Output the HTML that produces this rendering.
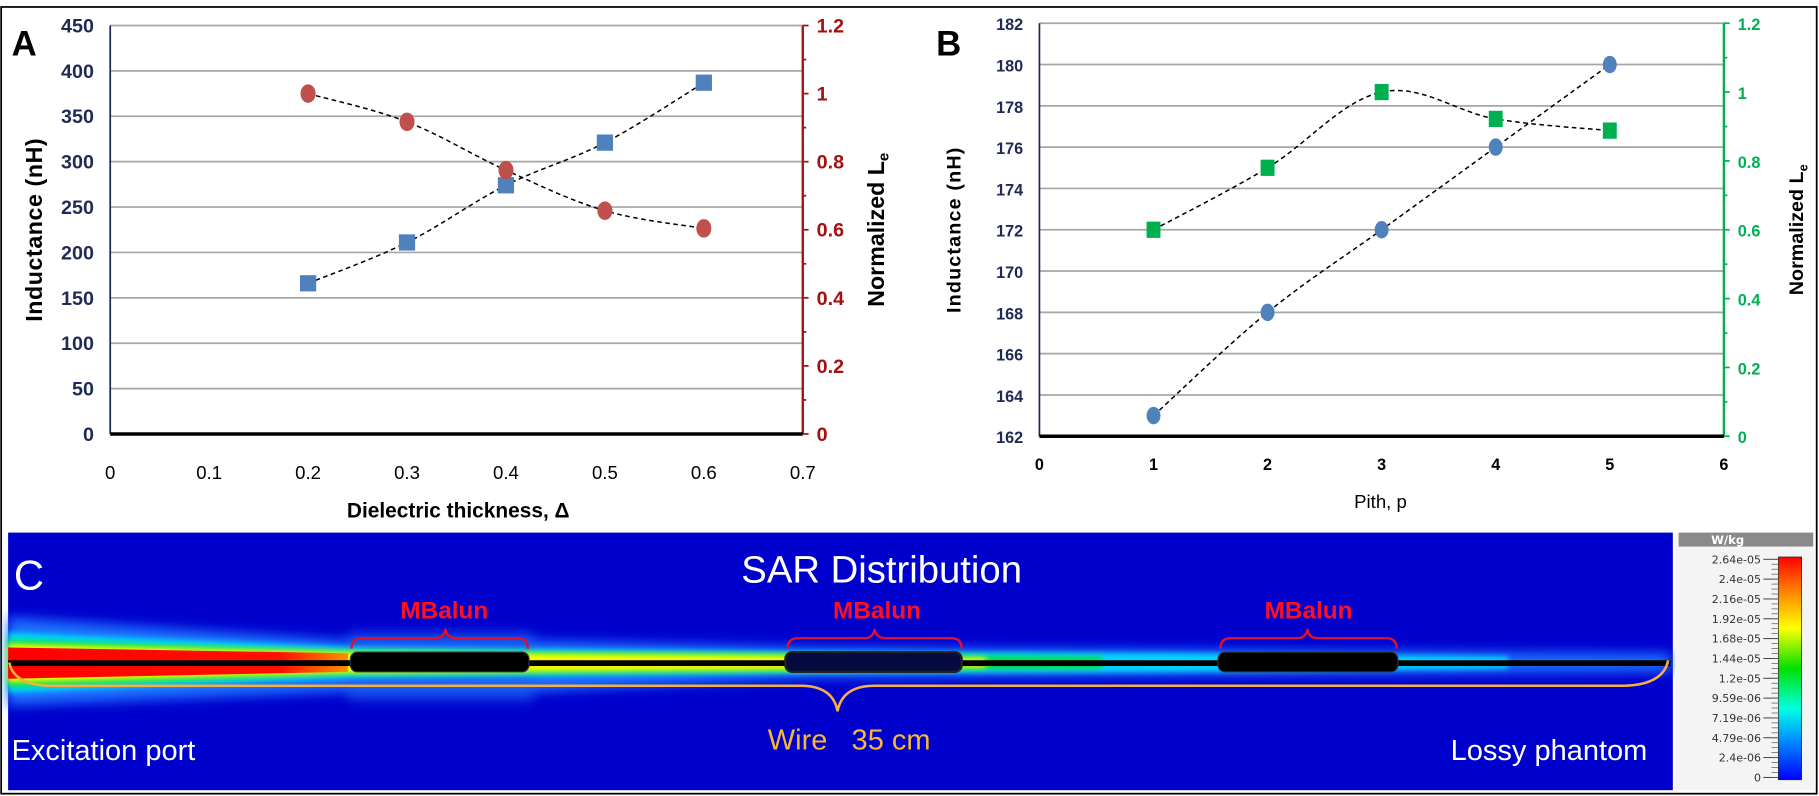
<!DOCTYPE html>
<html><head><meta charset="utf-8"><style>
html,body{margin:0;padding:0;background:#fff;}
svg{display:block;font-family:"Liberation Sans",sans-serif;}
</style></head><body>
<svg id="fig" width="1819" height="796" viewBox="0 0 1568 686" preserveAspectRatio="none" xmlns="http://www.w3.org/2000/svg">
<defs>
<filter id="blur6" x="-5%" y="-200%" width="110%" height="500%"><feGaussianBlur stdDeviation="5"/></filter>
<filter id="blur3" x="-5%" y="-200%" width="110%" height="500%"><feGaussianBlur stdDeviation="2.5"/></filter>
<linearGradient id="cbar" x1="0" y1="1" x2="0" y2="0">
<stop offset="0" stop-color="#0000ff"/><stop offset="0.2" stop-color="#00a0ff"/><stop offset="0.32" stop-color="#00ffe0"/><stop offset="0.5" stop-color="#00e000"/><stop offset="0.68" stop-color="#ffff00"/><stop offset="0.85" stop-color="#ff8000"/><stop offset="1" stop-color="#ff0000"/>
</linearGradient>
<linearGradient id="fadeR" x1="0" y1="0" x2="1" y2="0">
<stop offset="0" stop-color="#ff0000"/><stop offset="0.8" stop-color="#ff1000"/><stop offset="1" stop-color="#ff9000"/>
</linearGradient>
</defs>
<rect x="1" y="6" width="1565" height="678" fill="#fff" stroke="#000" stroke-width="1.5"/>
<g id="panelA"></g>
<g id="panelB"></g>
<g id="panelC">
  <rect x="7" y="459" width="1435" height="222" fill="#0000cd"/>
  <g>
    <polygon points="7,532 300,552 460,552 700,558 1000,560 1440,563 1440,579 1000,582 700,584 460,596 300,596 7,608" fill="#1a70ff" filter="url(#blur6)"/>
    <polygon points="300,545 460,545 460,604 300,604" fill="#1a60f0" opacity="0.6" filter="url(#blur6)"/>
    <polygon points="7,545 300,558 700,562 1000,563 1300,566 1300,576 1000,579 700,580 300,584 7,597" fill="#00d8ff" filter="url(#blur3)"/>
    <polygon points="7,551 300,561 700,564 950,566 950,576 700,578 300,581 7,592" fill="#00e040" filter="url(#blur3)"/>
    <polygon points="7,555 300,562 700,565 850,567 850,575 700,577 300,580 7,588" fill="#ffff00" filter="url(#blur3)"/>
    <polygon points="7,558 300,563 300,579 7,585" fill="url(#fadeR)"/>
  </g>
  <rect x="7" y="569" width="1433" height="5" fill="#000"/>
  <rect x="302" y="562" width="154" height="17" rx="6" fill="#000" stroke="#333"/>
  <rect x="677" y="562" width="152" height="17" rx="6" fill="#050a40" stroke="#222" stroke-width="2"/>
  <rect x="1050" y="562" width="155" height="17" rx="6" fill="#000" stroke="#333"/>
  <g fill="none" stroke="#e0102a" stroke-width="2">
    <path d="M303,559 Q303,550 312,550 L375,550 Q383,550 384,542 Q385,550 393,550 L446,550 Q455,550 455,559"/>
    <path d="M679,559 Q679,550 688,550 L745,550 Q753,550 754,542 Q755,550 763,550 L820,550 Q829,550 829,559"/>
    <path d="M1052,559 Q1052,550 1061,550 L1118,550 Q1126,550 1127,542 Q1128,550 1136,550 L1195,550 Q1204,550 1204,559"/>
  </g>
  <g font-size="21" fill="#ff1020" text-anchor="middle" font-weight="bold">
    <text x="383" y="533">MBalun</text>
    <text x="756" y="533">MBalun</text>
    <text x="1128" y="533">MBalun</text>
  </g>
  <path d="M8,571 Q12,591 45,591 L690,591 Q718,591 722,613 Q726,591 754,591 L1400,591 Q1434,590 1438,569" fill="none" stroke="#f4b040" stroke-width="2.2"/>
  <text x="12" y="508" font-size="36" fill="#fff">C</text>
  <text x="760" y="502" font-size="33" fill="#fff" text-anchor="middle">SAR Distribution</text>
  <text x="732" y="646" font-size="25" fill="#f8b830" text-anchor="middle">Wire&#160;&#160; 35 cm</text>
  <text x="10" y="655" font-size="25" fill="#fff">Excitation port</text>
  <text x="1420" y="655" font-size="25" fill="#fff" text-anchor="end">Lossy phantom</text>
  <g>
    <rect x="1444" y="459" width="120" height="222" fill="#f4f4f4"/>
    <rect x="1447" y="459" width="116" height="12" fill="#8a8a8a"/>
    <text x="1475" y="469" font-size="10" fill="#fff" font-weight="bold" font-family="DejaVu Sans">W/kg</text>
    <rect x="1533" y="480" width="20" height="192" fill="url(#cbar)" stroke="#222" stroke-width="0.6"/>
    <g id="cbticks"></g>
  </g>
</g>
</svg>
<script>
// ---------- Panel A data ----------
const aThickness = [0.2, 0.3, 0.4, 0.5, 0.6];
const aInductance = [166, 211, 274, 321, 387];
const aNormLe = [1.0, 0.917, 0.775, 0.656, 0.604];
const aXTicks = ['0','0.1','0.2','0.3','0.4','0.5','0.6','0.7'];
const aYTicks = ['0','50','100','150','200','250','300','350','400','450'];
const aY2Ticks = ['0','0.2','0.4','0.6','0.8','1','1.2'];
// ---------- Panel B data ----------
const bPitch = [1, 2, 3, 4, 5];
const bInductance = [163, 168, 172, 176, 180];
const bNormLe = [0.6, 0.78, 1.0, 0.922, 0.888];
const bXTicks = ['0','1','2','3','4','5','6'];
const bYTicks = ['162','164','166','168','170','172','174','176','178','180','182'];
const bY2Ticks = ['0','0.2','0.4','0.6','0.8','1','1.2'];
// ---------- Colorbar labels ----------
const cbLabels = ['2.64e-05','2.4e-05','2.16e-05','1.92e-05','1.68e-05','1.44e-05','1.2e-05','9.59e-06','7.19e-06','4.79e-06','2.4e-06','0'];

const NS='http://www.w3.org/2000/svg';
function mk(parent, tag, attrs, txt){const e=document.createElementNS(NS,tag);for(const k in attrs)e.setAttribute(k,attrs[k]);if(txt!==undefined)e.textContent=txt;parent.appendChild(e);return e;}
function smooth(pts){let d='M'+pts[0][0]+','+pts[0][1];for(let i=0;i<pts.length-1;i++){const p0=pts[Math.max(i-1,0)],p1=pts[i],p2=pts[i+1],p3=pts[Math.min(i+2,pts.length-1)];const t=0.35;d+=' C'+(p1[0]+(p2[0]-p0[0])*t/2)+','+(p1[1]+(p2[1]-p0[1])*t/2)+' '+(p2[0]-(p3[0]-p1[0])*t/2)+','+(p2[1]-(p3[1]-p1[1])*t/2)+' '+p2[0]+','+p2[1];}return d;}

function panel(g, o){
  const X=v=>o.x0+(v-o.xmin)/(o.xmax-o.xmin)*(o.x1-o.x0);
  const Y=v=>o.y0-(v-o.ymin)/(o.ymax-o.ymin)*(o.y0-o.y1);
  const Y2=v=>o.y0-(v-o.y2min)/(o.y2max-o.y2min)*(o.y0-o.y1);
  o.yTicks.forEach(t=>{const y=Y(+t);
    const gl=mk(g,'line',{x1:o.x0,x2:o.x1,y1:y,y2:y,stroke:'#a6a6a6','stroke-width':1.5});
    
    
    const tl=mk(g,'text',{x:o.x0-14,y:y+6,'font-size':o.tfs,fill:'#1f2a55','text-anchor':'end','font-weight':'bold'},t);
    
    
  });
  const la=mk(g,'line',{x1:o.x0,x2:o.x0,y1:o.y1,y2:o.y0,stroke:'#1f2a55','stroke-width':1.5});
  
  
  const ra=mk(g,'line',{x1:o.x1,x2:o.x1,y1:o.y1,y2:o.y0,stroke:o.c2,'stroke-width':2});
  
  
  const n2=o.y2Ticks.length-1;
  for(let i=0;i<=n2*2;i++){const v=o.y2min+(o.y2max-o.y2min)*i/(n2*2);const y=Y2(v);mk(g,'line',{x1:o.x1,x2:o.x1+(i%2?3:5),y1:y,y2:y,stroke:o.c2,'stroke-width':1.5});}
  o.y2Ticks.forEach(t=>{const tl=mk(g,'text',{x:o.x1+12,y:Y2(+t)+6,'font-size':o.tfs,fill:o.c2,'font-weight':'bold'},t);
    
    });
  const xa=mk(g,'line',{x1:o.x0,x2:o.x1,y1:o.y0,y2:o.y0,stroke:'#000','stroke-width':3});
  
  
  o.xTicks.forEach(t=>{const xl=mk(g,'text',{x:X(+t),y:o.xly,'font-size':o.xfs,fill:'#000','text-anchor':'middle','font-weight':o.xfw},t);
    
    });
  const s1=o.xs.map((v,i)=>[X(v),Y(o.s1[i])]);
  const s2=o.xs.map((v,i)=>[X(v),Y2(o.s2[i])]);
  [s1,s2].forEach((pts,k)=>{const p=mk(g,'path',{d:o.smooth?smooth(pts):'M'+pts.map(q=>q.join(',')).join(' L'),fill:'none',stroke:'#000','stroke-width':1.3,'stroke-dasharray':'4,3'});
    
    });
  s1.forEach(q=>{const m=o.m1(g,q);
    });
  s2.forEach(q=>{const m=o.m2(g,q);
    });
  const yt=mk(g,'text',{transform:`translate(${o.ytx},${(o.y0+o.y1)/2}) rotate(-90)`,'font-size':o.yfs,'font-weight':'bold','text-anchor':'middle',fill:'#000','letter-spacing':o.yls},o.ytitle);
  
  
  const yt2=mk(g,'text',{transform:`translate(${o.y2tx},${(o.y0+o.y1)/2}) rotate(-90)`,'font-size':o.yfs,'font-weight':'bold','text-anchor':'middle',fill:'#000'});
  
  
  mk(yt2,'tspan',{},'Normalized L');mk(yt2,'tspan',{'font-size':o.yfs*0.65,dy:4},'e');
  const xt=mk(g,'text',{x:o.xtx,y:o.xty,'font-size':o.xtfs,'font-weight':o.xtfw,'text-anchor':'middle',fill:'#000'},o.xtitle);
  
  
  const pl=mk(g,'text',{x:o.lx,y:o.ly,'font-size':30,'font-weight':'bold',fill:'#000'},o.label);
  
  
}

panel(document.getElementById('panelA'),{x0:95,x1:692,y0:374,y1:22,xmin:0,xmax:0.7,ymin:0,ymax:450,y2min:0,y2max:1.2,
  xs:aThickness,s1:aInductance,s2:aNormLe,xTicks:aXTicks,yTicks:aYTicks,y2Ticks:aY2Ticks,c2:'#a50f0f',tfs:17,xfs:16,xfw:'normal',xly:413,
  m1:(g,q)=>mk(g,'rect',{x:q[0]-7,y:q[1]-7,width:14,height:14,fill:'#4f81bd'}),
  m2:(g,q)=>mk(g,'ellipse',{cx:q[0],cy:q[1],rx:6.5,ry:8,fill:'#c0504d'}),
  smooth:true,ytitle:'Inductance (nH)',ytx:36,yfs:20,yls:'0.5',y2tx:762,xtitle:'Dielectric thickness, Δ',xtx:395,xty:446,xtfs:18,xtfw:'bold',label:'A',lx:10,ly:48});

panel(document.getElementById('panelB'),{x0:896,x1:1486,y0:376,y1:20,xmin:0,xmax:6,ymin:162,ymax:182,y2min:0,y2max:1.2,
  xs:bPitch,s1:bInductance,s2:bNormLe,xTicks:bXTicks,yTicks:bYTicks,y2Ticks:bY2Ticks,c2:'#00b050',tfs:14,xfs:14,xfw:'bold',xly:405,
  m1:(g,q)=>mk(g,'ellipse',{cx:q[0],cy:q[1],rx:6,ry:7.5,fill:'#4f81bd'}),
  m2:(g,q)=>mk(g,'rect',{x:q[0]-6,y:q[1]-7,width:12,height:14,fill:'#00b050'}),
  smooth:true,ytitle:'Inductance  (nH)',ytx:828,yfs:17,yls:'1',y2tx:1554,xtitle:'Pith, p',xtx:1190,xty:438,xtfs:16,xtfw:'normal',label:'B',lx:807,ly:48});

// colorbar labels & ticks
(function(){const g=document.getElementById('cbticks');const top=482,bot=670;
  cbLabels.forEach((t,i)=>{const y=top+(bot-top)*i/(cbLabels.length-1);
    const tl=mk(g,'text',{x:1518,y:y+3.5,'font-size':9.5,fill:'#333','text-anchor':'end','font-family':'DejaVu Sans'},t);
    
    
    mk(g,'line',{x1:1520,x2:1533,y1:y,y2:y,stroke:'#333','stroke-width':0.8});});
  for(let i=0;i<=44;i++){const y=top+(bot-top)*i/44;mk(g,'line',{x1:1527,x2:1533,y1:y,y2:y,stroke:'#555','stroke-width':0.6});}
})();
</script>
</body></html>
